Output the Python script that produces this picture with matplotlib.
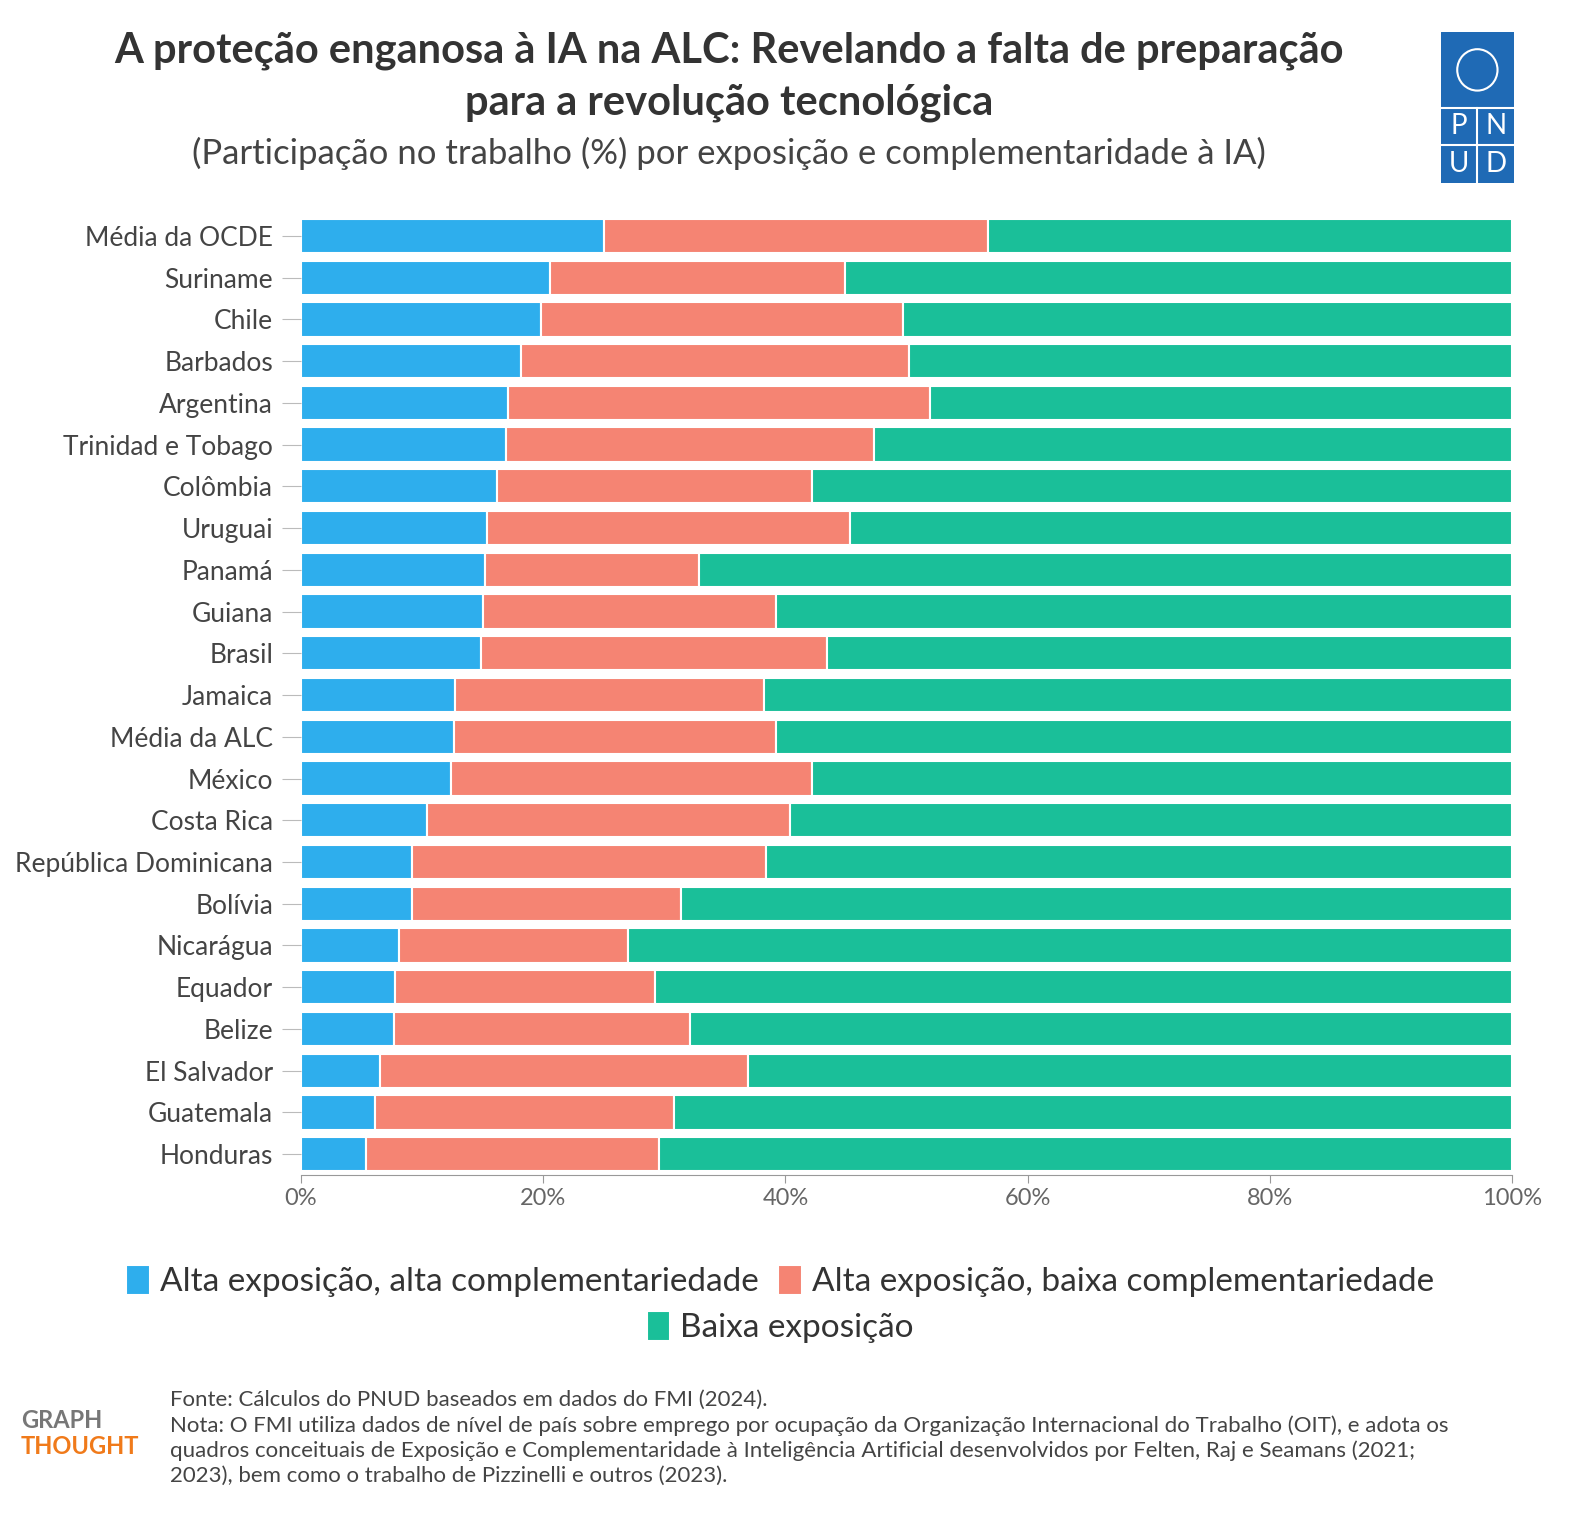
import numpy as np
import matplotlib.pyplot as plt
from matplotlib.patches import Rectangle
from matplotlib.ticker import FuncFormatter

plt.rcParams['font.family'] = ['Lato', 'DejaVu Sans']

countries = ["Média da OCDE", "Suriname", "Chile", "Barbados", "Argentina",
             "Trinidad e Tobago", "Colômbia", "Uruguai", "Panamá", "Guiana",
             "Brasil", "Jamaica", "Média da ALC", "México", "Costa Rica",
             "República Dominicana", "Bolívia", "Nicarágua", "Equador", "Belize",
             "El Salvador", "Guatemala", "Honduras"]
alta_alta = [25.0, 20.6, 19.8, 18.2, 17.1, 16.9, 16.2, 15.4, 15.2, 15.0, 14.9,
             12.7, 12.6, 12.4, 10.4, 9.2, 9.2, 8.1, 7.8, 7.7, 6.5, 6.1, 5.4]
# cumulative end of the second segment
cum_baixa = [56.7, 44.9, 49.7, 50.2, 51.9, 47.3, 42.2, 45.3, 32.9, 39.2, 43.4,
             38.2, 39.2, 42.2, 40.4, 38.4, 31.4, 27.0, 29.2, 32.1, 36.9, 30.8, 29.6]
alta_baixa = [c - a for c, a in zip(cum_baixa, alta_alta)]
baixa_exp = [100 - c for c in cum_baixa]

labels = ["Alta exposição, alta complementariedade",
          "Alta exposição, baixa complementariedade",
          "Baixa exposição"]
colors = ["#2eaeed", "#f58473", "#1abf99"]

fig = plt.figure(figsize=(15.92, 15.36), dpi=100)
ax = fig.add_axes([0.189, 0.235, 0.761, 0.625])

y = np.arange(len(countries))
left = np.zeros(len(countries))
for vals, lab, col in zip([alta_alta, alta_baixa, baixa_exp], labels, colors):
    ax.barh(y, vals, left=left, color=col, height=0.82, edgecolor="white",
            linewidth=1.5, label=lab)
    left += np.array(vals)

ax.set_xlim(0, 100)
ax.set_ylim(len(countries) - 0.5, -0.5)
ax.set_yticks(y)
ax.set_yticklabels(countries, fontsize=19, color="#444444")
ax.set_xticks([0, 20, 40, 60, 80, 100])
ax.xaxis.set_major_formatter(FuncFormatter(lambda v, p: f"{v:.0f}%"))
ax.tick_params(axis="x", labelsize=17, colors="#666666", length=6, color="#999999")
ax.tick_params(axis="y", length=14, color="#bbbbbb", pad=6)
for s in ["top", "right", "left"]:
    ax.spines[s].set_visible(False)
ax.spines["bottom"].set_color("#999999")

leg = fig.legend(loc="center", bbox_to_anchor=(0.49, 0.148), ncol=2, frameon=False,
                 fontsize=24, handlelength=0.7, handleheight=1.0, handletextpad=0.3,
                 columnspacing=0.6, labelcolor="#333333")
# rearrange: first two on row 1, third centered on row 2
leg.remove()
h, l = ax.get_legend_handles_labels()
fig.legend(h[:2], l[:2], loc="center", bbox_to_anchor=(0.49, 0.166), ncol=2,
           frameon=False, fontsize=24, handlelength=0.7, handleheight=1.0,
           handletextpad=0.3, columnspacing=0.6, labelcolor="#333333")
fig.legend(h[2:], l[2:], loc="center", bbox_to_anchor=(0.49, 0.136), ncol=1,
           frameon=False, fontsize=24, handlelength=0.7, handleheight=1.0,
           handletextpad=0.3, labelcolor="#333333")

fig.text(0.458, 0.967, "A proteção enganosa à IA na ALC: Revelando a falta de preparação",
         ha="center", va="center", fontsize=30, fontweight="bold", color="#333333")
fig.text(0.458, 0.933, "para a revolução tecnológica", ha="center", va="center",
         fontsize=30, fontweight="bold", color="#333333")
fig.text(0.458, 0.900, "(Participação no trabalho (%) por exposição e complementaridade à IA)",
         ha="center", va="center", fontsize=25, color="#444444")

# PNUD logo
lax = fig.add_axes([0.905, 0.881, 0.046, 0.098])
lax.set_xlim(0, 2)
lax.set_ylim(0, 4)
lax.axis("off")
lax.add_patch(Rectangle((0, 0), 2, 4, color="#1f6ab5"))
lax.plot([0, 2], [1, 1], color="white", lw=1.5)
lax.plot([0, 2], [2, 2], color="white", lw=1.5)
lax.plot([1, 1], [0, 2], color="white", lw=1.5)
lax.add_patch(plt.Circle((1, 3), 0.55, fill=False, ec="white", lw=1.5))
for t, (px, py) in zip("PNUD", [(0.5, 1.5), (1.5, 1.5), (0.5, 0.5), (1.5, 0.5)]):
    lax.text(px, py, t, ha="center", va="center", color="white", fontsize=20)

fig.text(0.013, 0.075, "GRAPH", fontsize=17, fontweight="bold", color="#777777", va="center")
fig.text(0.013, 0.058, "THOUGHT", fontsize=17, fontweight="bold", color="#f07a1a", va="center")

note = ("Fonte: Cálculos do PNUD baseados em dados do FMI (2024).\n"
        "Nota: O FMI utiliza dados de nível de país sobre emprego por ocupação da Organização Internacional do Trabalho (OIT), e adota os\n"
        "quadros conceituais de Exposição e Complementaridade à Inteligência Artificial desenvolvidos por Felten, Raj e Seamans (2021;\n"
        "2023), bem como o trabalho de Pizzinelli e outros (2023).")
fig.text(0.107, 0.095, note, fontsize=16, color="#444444", va="top", linespacing=1.3)

fig.savefig("out.png", dpi=100, facecolor="white")
